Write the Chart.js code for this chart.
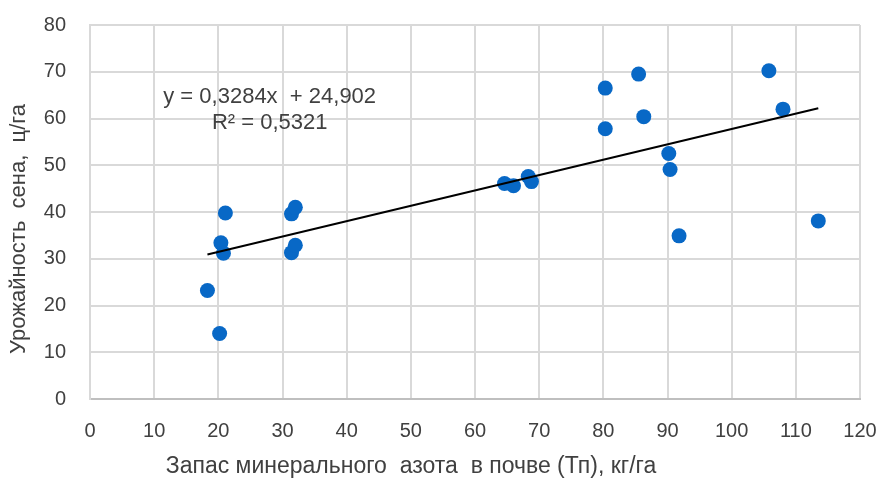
<!DOCTYPE html>
<html>
<head>
<meta charset="utf-8">
<script src="https://cdn.jsdelivr.net/npm/chart.js@4.4.1/dist/chart.umd.min.js"></script>
<style>
  html, body { margin: 0; padding: 0; background: #ffffff; }
  #wrap { width: 880px; height: 479px; position: relative; }
</style>
</head>
<body>
<div id="wrap"><canvas id="c" width="880" height="479"></canvas></div>
<script>
// ---- data ----
const nitrogenStock = [18.3, 20.2, 20.4, 20.8, 21.1, 31.4, 31.4, 32.0, 32.0, 64.6, 66.0, 68.3, 68.8, 80.3, 80.3, 85.5, 86.3, 90.2, 90.4, 91.8, 105.8, 108.0, 113.5];
const hayYield      = [23.2, 14.0, 33.4, 31.2, 39.8, 31.3, 39.6, 32.9, 41.0, 46.1, 45.6, 47.6, 46.5, 66.5, 57.8, 69.5, 60.4, 52.5, 49.1, 34.9, 70.2, 62.0, 38.1];
const trendSlope = 0.3284;
const trendIntercept = 24.902;
const equationLines = ['y = 0,3284x  + 24,902', 'R² = 0,5321'];
const xAxisTitle = 'Запас минерального  азота  в почве (Тп), кг/га';
const yAxisTitle = 'Урожайность  сена,  ц/га';
const xTicks = [0, 10, 20, 30, 40, 50, 60, 70, 80, 90, 100, 110, 120];
const yTicks = [0, 10, 20, 30, 40, 50, 60, 70, 80];

const points = nitrogenStock.map((x, i) => ({ x: x, y: hayYield[i] }));
const xMin = Math.min(...nitrogenStock), xMax = Math.max(...nitrogenStock);
const trendPoints = [xMin, xMax].map(x => ({ x: x, y: trendSlope * x + trendIntercept }));

const FONT = '"Liberation Sans", Arial, sans-serif';
const TEXT = '#404040';

const overlay = {
  id: 'overlay',
  afterDraw(chart) {
    const ctx = chart.ctx;
    const xs = chart.scales.x, ys = chart.scales.y, a = chart.chartArea;
    ctx.save();
    ctx.fillStyle = TEXT;
    ctx.textAlign = 'center';
    ctx.textBaseline = 'middle';
    // equation label
    ctx.font = '22px ' + FONT;
    const ex = xs.getPixelForValue(28.0);
    const ey = ys.getPixelForValue(64.7);
    ctx.fillText(equationLines[0], ex, ey);
    ctx.fillText(equationLines[1], ex, ey + 26);
    // x title
    ctx.font = '23px ' + FONT;
    ctx.fillText(xAxisTitle, a.left + 321, 467);
    // y title
    ctx.font = '22px ' + FONT;
    ctx.translate(19, a.top + 204);
    ctx.rotate(-Math.PI / 2);
    ctx.fillText(yAxisTitle, 0, 0);
    ctx.restore();
  }
};

new Chart(document.getElementById('c'), {
  type: 'scatter',
  data: {
    datasets: [
      {
        label: 'data',
        data: points,
        backgroundColor: '#0868C6',
        borderColor: '#0868C6',
        pointRadius: 7.5,
        pointHoverRadius: 7.5,
        borderWidth: 0,
        order: 2
      },
      {
        type: 'line',
        label: 'trend',
        data: trendPoints,
        borderColor: '#000000',
        borderWidth: 2,
        pointRadius: 0,
        fill: false,
        order: 1
      }
    ]
  },
  options: {
    responsive: false,
    animation: false,
    devicePixelRatio: 1,
    layout: { padding: { left: 0, right: 20, top: 25, bottom: 0 } },
    plugins: { legend: { display: false }, tooltip: { enabled: false } },
    scales: {
      x: {
        type: 'linear',
        min: 0, max: 120,
        afterBuildTicks: s => { s.ticks = xTicks.map(v => ({ value: v })); },
        afterFit: s => { s.height = 80; s.paddingLeft = 0; s.paddingRight = 0; },
        grid: { color: '#d9d9d9', lineWidth: 2, drawTicks: false },
        border: { color: '#bfbfbf', width: 2 },
        ticks: { color: TEXT, font: { family: FONT, size: 20 }, padding: 20, maxRotation: 0 }
      },
      y: {
        type: 'linear',
        min: 0, max: 80,
        afterBuildTicks: s => { s.ticks = yTicks.map(v => ({ value: v })); },
        afterFit: s => { s.width = 90; s.paddingTop = 0; s.paddingBottom = 0; },
        grid: { color: '#d9d9d9', lineWidth: 2, drawTicks: false },
        border: { color: '#d9d9d9', width: 2 },
        ticks: { color: TEXT, font: { family: FONT, size: 20 }, padding: 24 }
      }
    }
  },
  plugins: [overlay]
});
</script>
</body>
</html>
